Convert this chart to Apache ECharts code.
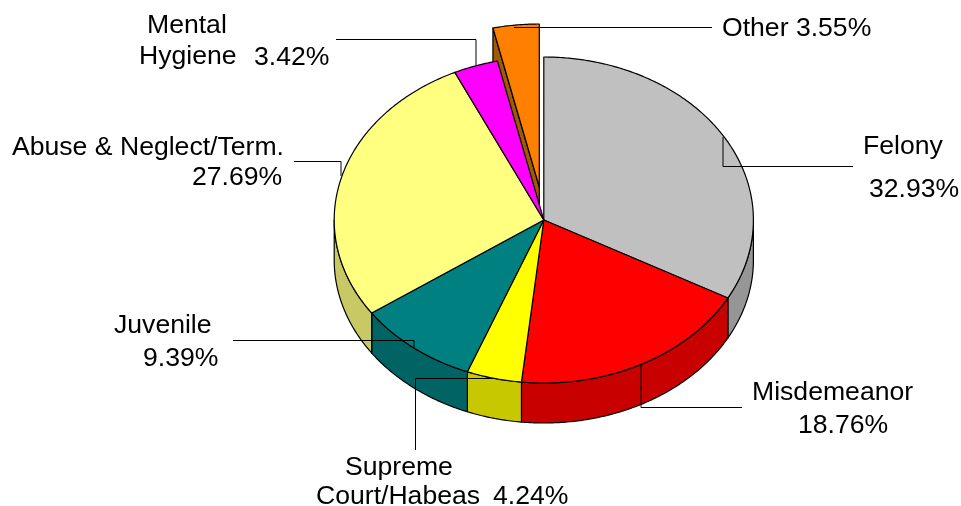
<!DOCTYPE html>
<html>
<head>
<meta charset="utf-8">
<style>html,body{margin:0;padding:0;background:#fff}#c{width:961px;height:506px}</style>
<script src="https://cdn.jsdelivr.net/npm/echarts@6/dist/echarts.min.js"></script>
</head>
<body>
<div id="c"></div>
<script>
const categories = ['Felony','Misdemeanor','Supreme Court/Habeas','Juvenile','Abuse & Neglect/Term.','Mental Hygiene','Other'];
const values = [32.93,18.76,4.24,9.39,27.69,3.42,3.55];
const topColors = ['#C0C0C0','#FF0000','#FFFF00','#008080','#FFFF80','#FF00FF','#FF8000'];
const sideColors = ['#969696','#C80000','#C8C800','#006464','#C8C864','#C800C8','#A05A00'];
const explode = [[0,0],[0,0],[0,0],[0,0],[0,0],[0,0],[-4.5,-33]];

const cx = 543.8, cy = 220, rx = 209.6, ry = 163, depth = 40;
const total = values.reduce((a,b)=>a+b,0);
const starts = []; { let s = 0; values.forEach(v => { starts.push(s); s += v; }); }

const pct = v => v.toFixed(2) + '%';
const px = (t,ox) => cx + ox + rx * Math.sin(t);
const py = (t,oy) => cy + oy - ry * Math.cos(t);
function arc(a,b,ox,oy,dy){
  const n = Math.max(2, Math.ceil(Math.abs(b-a)/0.01)), pts = [];
  for(let k=0;k<=n;k++){ const t=a+(b-a)*k/n; pts.push([px(t,ox),py(t,oy)+dy]); }
  return pts;
}
const stroke = {stroke:'#000',lineWidth:1.2,lineJoin:'round'};

function renderWall(params, api){
  const i = params.dataIndex, v = api.value(1);
  const a = starts[i]/total*2*Math.PI, b = (starts[i]+v)/total*2*Math.PI;
  const [ox,oy] = explode[i];
  const children = [];
  const A = Math.max(a, Math.PI/2), B = Math.min(b, 3*Math.PI/2);
  if (B > A) {
    const pts = arc(A,B,ox,oy,0).concat(arc(B,A,ox,oy,depth));
    children.push({type:'polygon',shape:{points:pts},style:Object.assign({fill:sideColors[i]},stroke)});
  }
  if (ox || oy) {
    const pts = [[cx+ox,cy+oy],[px(a,ox),py(a,oy)],[px(a,ox),py(a,oy)+depth],[cx+ox,cy+oy+depth]];
    children.push({type:'polygon',shape:{points:pts},style:Object.assign({fill:sideColors[i]},stroke)});
  }
  return {type:'group',children};
}
function renderTop(params, api){
  const i = params.dataIndex, v = api.value(1);
  const a = starts[i]/total*2*Math.PI, b = (starts[i]+v)/total*2*Math.PI;
  const [ox,oy] = explode[i];
  const pts = [[cx+ox,cy+oy]].concat(arc(a,b,ox,oy,0));
  return {type:'polygon',shape:{points:pts},style:Object.assign({fill:topColors[i]},stroke)};
}

const leaders = [
  [[514,27.5],[712,27.5]],
  [[336,39.5],[476,39.5],[476,65]],
  [[294,161.5],[341,161.5],[341,176]],
  [[233,340.5],[414,340.5],[414,348]],
  [[415.5,450],[415.5,378.5],[493,378.5]],
  [[641,365],[641,407.5],[742,407.5]],
  [[723,137],[723,166.5],[853,166.5]]
];
const labels = [
  ['Other ' + pct(values[6]),722,29],
  ['Mental',147,26],
  ['Hygiene',139,57],
  [pct(values[5]),254,58],
  ['Abuse & Neglect/Term.',12,148],
  [pct(values[4]),192,178],
  ['Juvenile',114,326],
  [pct(values[3]),143,359],
  ['Supreme',345,468],
  ['Court/Habeas',316,497],
  [pct(values[2]),493,497],
  ['Misdemeanor',752,393],
  [pct(values[1]),798,426],
  ['Felony',863,147],
  [pct(values[0]),869,190]
];

const chart = echarts.init(document.getElementById('c'),null,{renderer:'canvas'});
const seriesData = values.map((v,i)=>({name:categories[i],value:[i,v]}));
chart.setOption({
  animation:false,
  backgroundColor:'#fff',
  series:[
    {type:'custom',coordinateSystem:'none',silent:true,z:1,data:seriesData,renderItem:renderWall},
    {type:'custom',coordinateSystem:'none',silent:true,z:2,data:seriesData,renderItem:renderTop}
  ],
  graphic:{elements:[
    ...leaders.map(p=>({type:'polyline',silent:true,z:10,shape:{points:p},style:{stroke:'#000',lineWidth:1,fill:null}})),
    ...labels.map(l=>({type:'text',silent:true,z:11,x:l[1],y:l[2],style:{text:l[0],fill:'#000',font:'26.6px "Liberation Sans", Arial, sans-serif',textAlign:'left',textVerticalAlign:'middle'}}))
  ]}
});
</script>
</body>
</html>
